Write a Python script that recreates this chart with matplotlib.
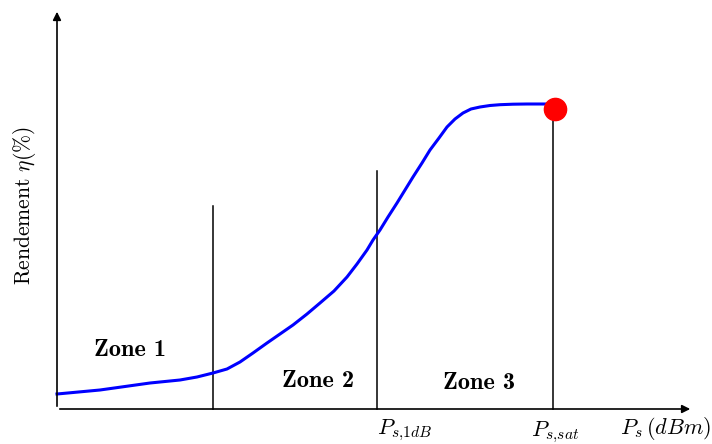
import matplotlib.pyplot as plt

plt.rcParams['font.family'] = 'cmr10'
plt.rcParams['mathtext.fontset'] = 'cm'
plt.rcParams['axes.unicode_minus'] = False

# courbe de rendement (origine = croisement des axes)
ps = [0, 43, 93, 123, 140, 156, 170, 183, 196, 210, 223, 236, 250, 263,
      277, 290, 300, 310, 316, 323, 331, 340, 348, 356, 365, 373, 382,
      390, 398, 406, 414, 423, 433, 443, 456, 470, 484, 496]
eta = [15, 19, 26, 29, 32, 36, 40, 47, 56, 66, 75, 84, 95, 106,
       118, 132, 145, 159, 169, 179, 192, 206, 219, 232, 246, 259, 271,
       282, 290, 296, 300, 302, 303.5, 304.3, 304.8, 305, 305, 305]

# limites des zones
x_lim = [156, 320, 496]
y_top = [203, 238, 301]
zones = ["Zone 1", "Zone 2", "Zone 3"]
zone_pos = [(73, 59), (261, 28), (422, 26)]

fig = plt.figure(figsize=(7.12, 4.44), dpi=100)
ax = fig.add_axes([0, 0, 1, 1])
ax.set_xlim(-57, 655)
ax.set_ylim(-35, 409)
ax.axis("off")

# axes fléchés
arrow = dict(arrowstyle="-|>", color="black", lw=1.2, mutation_scale=12)
ax.annotate("", xy=(0, 400), xytext=(0, 0), arrowprops=arrow)
ax.annotate("", xy=(636, 0), xytext=(0, 0), arrowprops=arrow)

for x, yt in zip(x_lim, y_top):
    ax.plot([x, x], [0, yt], color="black", lw=1.1)

ax.plot(ps, eta, color="blue", lw=2.2, solid_joinstyle="round")
ax.plot(498, 300, "o", color="red", markersize=16)

for z, (x, y) in zip(zones, zone_pos):
    ax.text(x, y, z, fontsize=17.5, fontname="cmb10", ha="center", va="center")

ax.text(348, -21, r"$P_{s{,}1dB}$", fontsize=16, ha="center", va="center")
ax.text(498, -23, r"$P_{s{,}sat}$", fontsize=16, ha="center", va="center")
ax.text(609, -19, r"$P_s\,(dBm)$", fontsize=16, ha="center", va="center")
ax.text(-32, 204, r"Rendement $\eta(\%)$", fontsize=15.5, rotation=90,
        ha="center", va="center")

fig.savefig("out.png", dpi=100)
